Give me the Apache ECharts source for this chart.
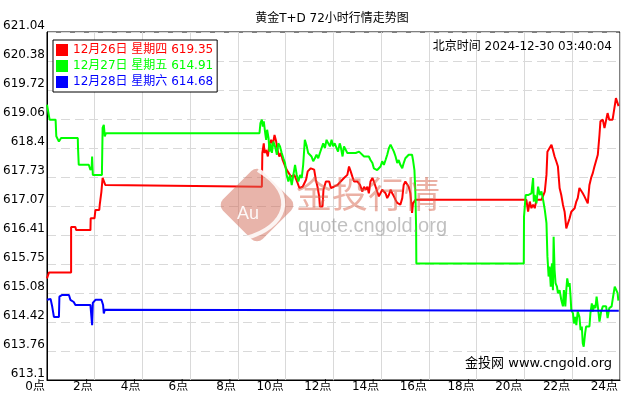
<!DOCTYPE html>
<html>
<head>
<meta charset="utf-8">
<script src="https://cdn.jsdelivr.net/npm/echarts@6/dist/echarts.min.js"></script>
<style>html,body{margin:0;padding:0;background:#fff}#c{width:630px;height:400px}</style>
</head>
<body>
<div id="c"></div>
<script>
const titleText = '黄金T+D 72小时行情走势图';
const timeText = '北京时间 2024-12-30 03:40:04';
const footText = '金投网 www.cngold.org';
const seriesNames = ['12月26日 星期四', '12月27日 星期五', '12月28日 星期六'];
const lastValues = ['619.35', '614.91', '614.68'];
const seriesColors = ['#ff0000', '#00ff00', '#0000ff'];
const xTickLabels = ['0点','2点','4点','6点','8点','10点','12点','14点','16点','18点','20点','22点','24点'];
const yTickLabels = ['613.1','613.76','614.42','615.08','615.75','616.41','617.07','617.73','618.4','619.06','619.72','620.38','621.04'];
const yMin = 613.1, yMax = 621.04;

const redData = [[0,615.42],[0.08,615.55],[1.01,615.55],[1.01,616.59],[1.19,616.59],[1.22,616.52],[1.82,616.52],[1.83,616.79],[1.99,616.79],[2.03,616.98],[2.19,616.98],[2.21,617.10],[2.28,617.40],[2.33,617.71],[2.39,617.67],[2.44,617.55],[2.51,617.51],[9.0,617.51],[9.02,618.28],[9.08,618.50],[9.11,618.28],[9.18,618.35],[9.25,618.20],[9.32,618.50],[9.39,618.58],[9.46,618.47],[9.53,618.69],[9.60,618.54],[9.67,618.31],[9.73,618.20],[9.80,618.28],[9.87,618.12],[9.94,618.16],[10.01,617.93],[10.08,617.86],[10.15,617.86],[10.22,617.74],[10.36,617.78],[10.50,617.59],[10.57,617.48],[10.64,617.48],[10.71,617.51],[10.85,617.67],[10.92,617.86],[11.05,617.93],[11.19,617.90],[11.26,617.67],[11.33,617.51],[11.40,617.29],[11.43,617.06],[11.54,617.06],[11.58,617.44],[11.68,617.63],[11.82,617.63],[11.89,617.48],[12.02,617.51],[12.17,617.55],[12.30,617.63],[12.44,617.71],[12.58,617.78],[12.65,617.97],[12.72,617.86],[12.79,617.74],[12.86,617.63],[13.00,617.63],[13.11,617.55],[13.21,617.40],[13.28,617.51],[13.35,617.44],[13.42,617.51],[13.48,617.36],[13.55,617.63],[13.63,617.71],[13.69,617.63],[13.76,617.67],[13.83,617.40],[13.90,617.29],[13.97,617.32],[14.04,617.44],[14.11,617.40],[14.18,617.36],[14.25,617.25],[14.32,617.32],[14.39,617.44],[14.46,617.36],[14.53,617.29],[14.60,617.21],[14.67,617.14],[14.73,617.17],[14.80,617.10],[14.88,617.25],[14.94,617.55],[15.01,617.63],[15.08,617.67],[15.15,617.51],[15.22,617.36],[15.26,617.13],[15.29,616.91],[15.33,617.13],[15.39,617.10],[15.43,617.21],[20.08,617.21],[20.15,616.94],[20.22,617.17],[20.29,617.02],[20.36,617.10],[20.43,617.02],[20.50,617.21],[20.57,617.17],[20.71,617.21],[20.78,617.25],[20.85,617.40],[20.92,617.78],[20.96,618.31],[21.03,618.35],[21.13,618.47],[21.19,618.35],[21.26,618.20],[21.33,618.09],[21.40,617.97],[21.47,617.48],[21.54,617.32],[21.61,617.10],[21.68,616.94],[21.75,616.56],[21.82,616.52],[21.89,616.79],[21.96,616.94],[22.03,616.94],[22.10,617.02],[22.17,617.17],[22.23,617.25],[22.30,617.48],[22.38,617.51],[22.44,617.36],[22.51,617.29],[22.58,617.21],[22.65,617.13],[22.72,617.55],[22.79,617.71],[22.86,617.82],[22.93,617.97],[23.00,618.01],[23.07,618.24],[23.14,618.69],[23.18,619.00],[23.28,619.04],[23.35,618.85],[23.42,618.85],[23.48,619.19],[23.55,619.04],[23.69,619.04],[23.76,619.08],[23.83,619.53],[23.90,619.57],[23.94,619.35]];

const greenData = [[0,619.38],[0.05,619.23],[0.11,619.04],[0.36,619.04],[0.39,618.66],[0.5,618.54],[0.56,618.51],[0.59,618.62],[1.29,618.62],[1.30,618.39],[1.33,618.01],[1.75,618.01],[1.82,617.89],[1.87,617.94],[1.89,618.20],[1.92,617.78],[2.30,617.78],[2.33,618.85],[2.38,618.92],[2.42,618.66],[2.47,618.73],[8.90,618.73],[8.94,618.96],[9.00,619.04],[9.04,618.88],[9.08,619.00],[9.14,618.73],[9.18,618.58],[9.22,618.81],[9.28,618.62],[9.32,618.31],[9.36,618.50],[9.42,618.28],[9.48,618.54],[9.55,618.43],[9.63,618.24],[9.69,618.50],[9.76,618.43],[9.83,618.28],[9.90,618.16],[9.97,618.05],[10.04,617.78],[10.11,617.63],[10.18,617.78],[10.25,617.55],[10.32,617.78],[10.39,618.01],[10.46,617.78],[10.53,617.63],[10.60,617.78],[10.67,617.71],[10.73,618.01],[10.80,618.58],[10.88,618.43],[10.94,618.28],[11.01,618.31],[11.08,618.20],[11.15,618.09],[11.22,618.16],[11.29,618.24],[11.36,618.16],[11.43,618.28],[11.50,618.39],[11.57,618.50],[11.64,618.39],[11.71,618.58],[11.78,618.50],[11.85,618.43],[11.92,618.58],[11.98,618.43],[12.05,618.50],[12.13,618.47],[12.19,618.31],[12.26,618.50],[12.30,618.43],[12.38,618.20],[12.44,618.43],[12.51,618.47],[12.58,618.28],[12.93,618.28],[13.00,618.24],[13.07,618.31],[13.14,618.28],[13.28,618.20],[13.35,618.24],[13.48,618.20],[13.55,618.12],[13.63,618.05],[13.69,617.93],[13.76,617.97],[13.83,617.89],[13.90,617.86],[13.97,617.97],[14.04,618.09],[14.11,618.01],[14.18,618.12],[14.25,618.24],[14.32,618.39],[14.39,618.47],[14.46,618.50],[14.53,618.31],[14.60,618.20],[14.67,618.05],[14.73,618.12],[14.80,618.01],[14.88,617.93],[14.94,618.05],[15.01,618.16],[15.08,618.12],[15.15,618.24],[15.22,618.28],[15.29,618.24],[15.33,618.12],[15.39,617.89],[15.43,617.36],[15.46,616.60],[15.47,615.76],[19.97,615.76],[19.98,616.83],[20.05,617.32],[20.15,617.32],[20.29,617.36],[20.36,617.71],[20.39,617.17],[20.43,617.32],[20.50,617.13],[20.57,617.51],[20.64,617.32],[20.71,617.40],[20.78,617.21],[20.85,616.98],[20.92,616.68],[20.96,615.92],[21.01,615.46],[21.05,615.69],[21.10,615.23],[21.15,615.76],[21.19,615.15],[21.22,616.37],[21.26,615.61],[21.30,615.31],[21.36,615.23],[21.40,615.08],[21.47,615.15],[21.54,614.93],[21.61,614.78],[21.65,615.15],[21.71,614.78],[21.75,615.15],[21.79,615.42],[21.85,615.23],[21.89,615.31],[21.93,615.00],[21.96,614.70],[22.03,614.62],[22.07,614.39],[22.13,614.54],[22.17,614.35],[22.23,614.66],[22.30,614.54],[22.35,614.24],[22.40,614.32],[22.44,613.94],[22.48,613.86],[22.54,614.17],[22.58,614.32],[22.72,614.32],[22.76,614.62],[22.82,614.85],[22.86,614.66],[22.92,614.81],[22.97,614.74],[23.02,615.00],[23.08,614.74],[23.14,614.43],[23.21,614.66],[23.28,614.78],[23.42,614.78],[23.48,614.51],[23.55,614.74],[23.65,614.78],[23.71,615.00],[23.78,615.23],[23.86,615.23],[23.90,615.08],[23.93,614.91]];

const blueData = [[0,614.93],[0.15,614.95],[0.22,614.77],[0.29,614.54],[0.50,614.54],[0.52,615.00],[0.64,615.04],[0.92,615.04],[0.98,614.93],[1.12,614.88],[1.19,614.81],[1.82,614.81],[1.86,614.77],[1.89,614.35],[1.92,614.86],[1.96,614.89],[2.03,614.93],[2.28,614.93],[2.35,614.81],[2.38,614.62],[2.42,614.70],[2.47,614.68],[23.95,614.68]];

const allData = [redData, greenData, blueData];
const FONT = 'DejaVu Sans, "Noto Sans CJK SC", sans-serif';
const yStep = (yMax - yMin) / 12;

const chart = echarts.init(document.getElementById('c'), null, {renderer: 'canvas'});
chart.setOption({
  animation: false,
  backgroundColor: '#fff',
  grid: {left: 45, right: 10, top: 32, bottom: 20, show: true, borderColor: '#000', borderWidth: 1, backgroundColor: '#fff'},
  legend: {
    orient: 'vertical', left: 53, top: 40, padding: [4, 4, 4, 3],
    itemWidth: 12, itemHeight: 12, itemGap: 4, icon: 'rect',
    borderColor: '#000', borderWidth: 1, backgroundColor: '#fff',
    selectedMode: false,
    itemStyle: {borderWidth: 0},
    data: seriesNames.map((n, i) => ({name: n, textStyle: {color: seriesColors[i]}})),
    formatter: n => n + ' ' + lastValues[seriesNames.indexOf(n)],
    textStyle: {fontSize: 12, fontFamily: FONT, lineHeight: 12}
  },
  xAxis: {
    type: 'value', min: 0, max: 24, interval: 2,
    axisLine: {show: true, lineStyle: {color: '#000', width: 1}},
    axisTick: {show: false},
    axisLabel: {
      color: '#000', fontSize: 12, fontFamily: FONT, align: 'right', margin: 1,
      verticalAlign: 'top', padding: [0, 2, 0, 0],
      showMinLabel: true, showMaxLabel: true,
      formatter: v => xTickLabels[Math.round(v / 2)]
    },
    splitLine: {show: true, lineStyle: {color: '#d9d9d9', width: 1, type: 'solid'}}
  },
  yAxis: {
    type: 'value', min: yMin, max: yMax, interval: yStep,
    axisLine: {show: true, lineStyle: {color: '#000', width: 1}},
    axisTick: {show: false},
    axisLabel: {
      color: '#000', fontSize: 12, fontFamily: FONT, margin: 2, verticalAlign: 'bottom',
      showMinLabel: true, showMaxLabel: true,
      formatter: v => yTickLabels[Math.round((v - yMin) / yStep)]
    },
    splitLine: {show: true, lineStyle: {color: '#d9d9d9', width: 1, type: [9, 5]}}
  },
  series: seriesNames.map((n, i) => ({
    name: n, type: 'line', data: allData[i], showSymbol: false, symbol: 'none',
    lineStyle: {color: seriesColors[i], width: 2}, itemStyle: {color: seriesColors[i]},
    z: 2 + i
  })),
  graphic: [
    {type: 'text', x: 332, y: 19, z: 50,
     style: {text: titleText, fill: '#000', font: '12px ' + FONT, textAlign: 'center', textVerticalAlign: 'middle'}},
    {type: 'text', x: 612, y: 47, z: 50,
     style: {text: timeText, fill: '#000', font: '12px ' + FONT, textAlign: 'right', textVerticalAlign: 'middle'}},
    {type: 'text', x: 612, y: 364, z: 50,
     style: {text: footText, fill: '#000', font: '13px ' + FONT, textAlign: 'right', textVerticalAlign: 'middle'}},
    {type: 'rect', x: 257, y: 205, rotation: Math.PI / 4, z: 40,
     shape: {x: -28, y: -28, width: 56, height: 56, r: 8},
     style: {fill: 'rgba(210,105,85,0.5)'}},
    {type: 'bezierCurve', z: 41,
     shape: {x1: 258, y1: 170, x2: 246, y2: 238, cpx1: 300, cpy1: 195, cpx2: 285, cpy2: 228},
     style: {stroke: 'rgba(255,255,255,0.85)', lineWidth: 4, fill: null}},
    {type: 'text', x: 248, y: 214, z: 41,
     style: {text: 'Au', fill: 'rgba(255,255,255,0.9)', font: '18px "Liberation Sans", sans-serif', textAlign: 'center', textVerticalAlign: 'middle'}},
    {type: 'text', x: 296, y: 194, z: 40,
     style: {text: '金投行情', fill: 'rgba(215,100,75,0.5)', font: '36px "Noto Sans CJK SC", sans-serif', textAlign: 'left', textVerticalAlign: 'middle'}},
    {type: 'text', x: 298, y: 226, z: 40,
     style: {text: 'quote.cngold.org', fill: 'rgba(140,140,140,0.55)', font: '20px "Liberation Sans", sans-serif', textAlign: 'left', textVerticalAlign: 'middle'}}
  ]
});
</script>
</body>
</html>
